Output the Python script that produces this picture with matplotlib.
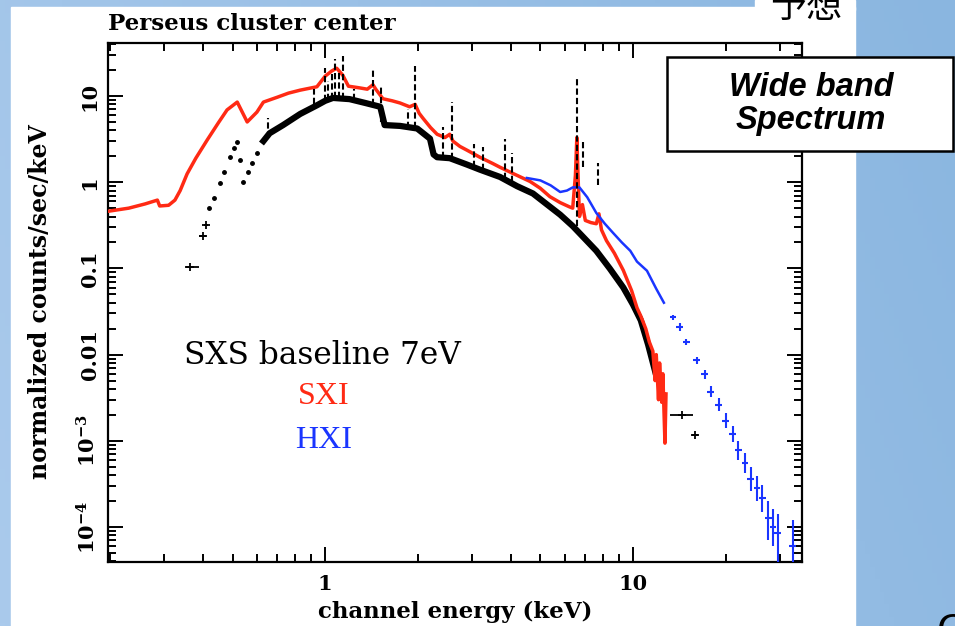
import numpy as np
import matplotlib
matplotlib.use("Agg")
import matplotlib.pyplot as plt
from matplotlib.patches import Rectangle
from matplotlib.ticker import LogLocator, NullFormatter, FixedLocator

plt.rcParams['mathtext.fontset'] = 'dejavuserif'

# SXI (red) spectrum
sxi_e = [0.197, 0.23, 0.26, 0.285, 0.29, 0.31, 0.325, 0.338, 0.356, 0.38, 0.414, 0.45,
         0.48, 0.518, 0.558, 0.60, 0.63, 0.70, 0.76, 0.83, 0.94, 1.0, 1.05, 1.09, 1.14,
         1.19, 1.28, 1.37, 1.43, 1.46, 1.54, 1.65, 1.75, 1.88, 1.96, 2.02, 2.08, 2.2,
         2.31, 2.45, 2.54, 2.6, 2.74, 2.89, 3.18, 3.5, 3.7, 4.1, 4.63, 5.0, 5.37, 5.8,
         6.2, 6.37, 6.5, 6.57, 6.64, 6.7, 6.85, 7.0, 7.3, 7.6, 7.75, 7.9, 8.2, 8.7, 9.3,
         9.9, 10.3, 10.6, 11.0, 11.3, 11.6, 11.8, 11.9, 12.1, 12.2, 12.4, 12.5, 12.7, 12.8]
sxi_f = [0.46, 0.50, 0.56, 0.62, 0.53, 0.54, 0.62, 0.80, 1.25, 1.9, 3.1, 4.9,
         6.9, 8.5, 5.0, 6.5, 8.5, 9.7, 10.8, 11.7, 12.8, 17.0, 19.5, 21.0, 17.5,
         13.0, 12.5, 12.0, 13.5, 12.0, 9.3, 8.8, 8.3, 7.5, 8.0, 6.3, 5.5, 4.3,
         3.6, 3.3, 3.6, 3.0, 2.6, 2.35, 1.95, 1.65, 1.49, 1.25, 1.02, 0.85, 0.68, 0.58,
         0.52, 0.50, 1.2, 3.3, 1.0, 0.40, 0.55, 0.36, 0.34, 0.33, 0.43, 0.28, 0.21, 0.15, 0.095,
         0.055, 0.035, 0.028, 0.020, 0.014, 0.011, 0.005, 0.010, 0.003, 0.008, 0.0028, 0.006, 0.00094, 0.0035]

# SXS (black) spectrum
sxs_dot_e = [0.42, 0.435, 0.456, 0.47, 0.49, 0.505, 0.518, 0.53, 0.54, 0.56, 0.58, 0.60]
sxs_dot_f = [0.5, 0.65, 0.97, 1.3, 1.95, 2.5, 2.9, 1.8, 1.0, 1.3, 1.66, 2.2]
sxs_e = [0.63, 0.66, 0.73, 0.83, 0.94, 1.0, 1.06, 1.2, 1.35, 1.51, 1.56, 1.75, 1.99,
         2.19, 2.25, 2.31, 2.54, 2.89, 3.18, 3.7, 4.2, 4.73, 5.37, 5.8, 6.37, 6.9, 7.6,
         8.4, 9.3, 10.0, 10.6, 11.2, 11.9]
sxs_f = [3.0, 3.7, 4.6, 6.2, 7.8, 8.8, 9.5, 9.2, 8.3, 7.5, 4.6, 4.5, 4.2,
         3.2, 2.1, 1.95, 1.9, 1.6, 1.4, 1.15, 0.9, 0.74, 0.52, 0.42, 0.31, 0.23, 0.16,
         0.10, 0.060, 0.038, 0.025, 0.013, 0.0057]
# isolated binned points with error bars
sxs_pt_e = [0.365, 0.40, 0.41, 14.4, 15.9]
sxs_pt_f = [0.105, 0.24, 0.32, 0.002, 0.00117]
sxs_pt_elo = [0.35, 0.39, 0.405, 13.2, 15.5]
sxs_pt_ehi = [0.39, 0.41, 0.415, 15.7, 16.3]

# emission lines in SXS (dashed)
line_e = [0.65, 0.92, 1.0, 1.02, 1.05, 1.08, 1.11, 1.14, 1.24, 1.43, 1.52, 1.86, 1.96,
          2.42, 2.59, 3.05, 3.26, 3.84, 4.05, 6.57, 6.9, 7.7]
line_top = [5.5, 12, 21, 15, 18, 27, 20, 29, 12, 21, 12.8, 7.0, 22,
            4.4, 8.5, 2.8, 2.55, 3.2, 2.2, 16, 3.2, 1.67]
line_base = [3.3, 8, 8.8, 9, 9.3, 9.5, 9.4, 9.3, 9, 7.8, 5, 4.3, 4.2,
             1.9, 1.85, 1.5, 1.4, 1.1, 1.0, 0.31, 1.5, 0.93]

# HXI (blue)
hxi_e = [4.52, 5.0, 5.4, 5.8, 6.1, 6.37, 6.7, 7.1, 7.6, 8.1, 8.6, 9.2, 9.8, 10.3,
         11.1, 11.9, 12.6]
hxi_f = [1.12, 1.05, 0.92, 0.77, 0.80, 0.87, 0.87, 0.67, 0.44, 0.33, 0.26, 0.20,
         0.16, 0.12, 0.094, 0.058, 0.040]
hxi_pt_e = [13.5, 14.2, 14.9, 16.1, 17.1, 17.9, 19.0, 20.0, 21.1, 22.0, 23.1, 24.1,
            25.3, 26.3, 27.5, 28.5, 29.5, 33.0]
hxi_pt_f = [0.027, 0.021, 0.014, 0.0086, 0.0059, 0.0037, 0.0026, 0.0017, 0.0012,
            0.00078, 0.00056, 0.00036, 0.00028, 0.00022, 0.000128, 0.0001, 0.000085, 0.00006]
hxi_pt_flo = [0.025, 0.019, 0.0128, 0.0078, 0.0052, 0.0032, 0.0022, 0.0014, 0.00097,
              0.0006, 0.00042, 0.00026, 0.0002, 0.00015, 0.00007, 0.00006, 0.00003, 0.00003]
hxi_pt_fhi = [0.029, 0.023, 0.0153, 0.0095, 0.0067, 0.0043, 0.0031, 0.0021, 0.0015,
              0.001, 0.00072, 0.0005, 0.00039, 0.00031, 0.0002, 0.00016, 0.00014, 0.00012]

W, H = 955, 626
fig = plt.figure(figsize=(9.55, 6.26), dpi=100)

# slide background
bg = fig.add_axes([0, 0, 1, 1], zorder=-10)
gx = np.linspace(0, 1, 200)[None, :]
gy = np.linspace(0, 1, 200)[:, None]
c1 = np.array([170, 202, 236]) / 255
c2 = np.array([138, 182, 224]) / 255
t = (0.8 * gx + 0.2 * (1 - gy))[..., None]
img = c1 * (1 - t) + c2 * t
bg.imshow(img, extent=[0, W, H, 0], aspect='auto')
bg.add_patch(Rectangle((11, 7), 844, 625, color='white'))
bg.add_patch(Rectangle((755, 0), 100, 10, color='white'))
bg.set_xlim(0, W)
bg.set_ylim(H, 0)
bg.axis('off')

ax = fig.add_axes([108 / W, 1 - 562 / H, (802 - 108) / W, (562 - 43) / H])
ax.set_facecolor('none')
ax.set_xscale('log')
ax.set_yscale('log')
ax.set_xlim(0.197, 35.4)
ax.set_ylim(3.93e-5, 41.2)

ax.plot(sxs_e, sxs_f, color='black', lw=4.5, zorder=2)
ax.plot(sxs_dot_e, sxs_dot_f, ls='none', marker='o', ms=2.5, color='black', zorder=2)
xerr = [np.array(sxs_pt_e) - np.array(sxs_pt_elo), np.array(sxs_pt_ehi) - np.array(sxs_pt_e)]
ax.errorbar(sxs_pt_e, sxs_pt_f, xerr=xerr, fmt='+', color='black', ms=6, mew=1.3,
            elinewidth=1.3, zorder=2)
ax.plot(sxi_e, sxi_f, color='#ff2a14', lw=2.5, zorder=3)
ax.plot(hxi_e, hxi_f, color='#1a35ff', lw=1.8, zorder=4)
he = np.array(hxi_pt_e)
yerr = [np.array(hxi_pt_f) - np.array(hxi_pt_flo), np.array(hxi_pt_fhi) - np.array(hxi_pt_f)]
ax.errorbar(hxi_pt_e, hxi_pt_f, xerr=he * 0.025, yerr=yerr, fmt='none', ecolor='#1a35ff',
            elinewidth=1.5, zorder=4, clip_on=True)
ax.vlines(line_e, line_base, line_top, colors='black', linestyles=(0, (3, 1.5)),
          lw=1.5, zorder=5)

for s in ax.spines.values():
    s.set_linewidth(1.6)
ax.tick_params(which='both', direction='in', top=True, right=True, width=1.4)
ax.tick_params(which='major', length=11)
ax.tick_params(which='minor', length=6)
ax.yaxis.set_major_locator(FixedLocator([1e-4, 1e-3, 0.01, 0.1, 1, 10]))
ax.yaxis.set_minor_locator(LogLocator(subs=np.arange(2, 10), numticks=30))
ax.yaxis.set_minor_formatter(NullFormatter())
ax.set_yticklabels(['$\\mathbf{10^{-4}}$', '$\\mathbf{10^{-3}}$', '0.01', '0.1', '1', '10'],
                   rotation=90, va='center', family='DejaVu Serif', weight='bold', fontsize=15)
ax.xaxis.set_major_locator(FixedLocator([1, 10]))
ax.xaxis.set_minor_locator(LogLocator(subs=np.arange(2, 10), numticks=30))
ax.xaxis.set_minor_formatter(NullFormatter())
ax.set_xticklabels(['1', '10'], family='DejaVu Serif', weight='bold', fontsize=15)
ax.tick_params(axis='y', pad=6)
ax.tick_params(axis='x', pad=9)

serif = 'DejaVu Serif'
fig.text(108 / W, 1 - 24 / H, 'Perseus cluster center', ha='left', va='center',
         family=serif, weight='bold', fontsize=16.5)
fig.text(455 / W, 1 - 612 / H, 'channel energy (keV)', ha='center', va='center',
         family=serif, weight='bold', fontsize=16.5)
fig.text(40 / W, 1 - 302 / H, 'normalized counts/sec/keV', ha='center', va='center',
         rotation=90, family=serif, weight='bold', fontsize=17)

fig.text(322 / W, 1 - 355 / H, 'SXS baseline 7eV', ha='center', va='center',
         family=serif, fontsize=22.5)
fig.text(324 / W, 1 - 397 / H, 'SXI', ha='center', va='center', color='#ff2a14',
         family='Liberation Serif', fontsize=23)
fig.text(324 / W, 1 - 441 / H, 'HXI', ha='center', va='center', color='#1a35ff',
         family='Liberation Serif', fontsize=23)

fig.add_artist(Rectangle((667 / W, 1 - 151 / H), 286 / W, 94 / H, transform=fig.transFigure,
                         facecolor='white', edgecolor='black', lw=1.8, zorder=10))
fig.text(811 / W, 1 - 104 / H, 'Wide band\nSpectrum', ha='center', va='center',
         family='Liberation Sans', weight='bold', style='italic', fontsize=23.5,
         linespacing=1.1, zorder=11)

# slide text cut by the top and bottom edges, as in the screenshot
fig.text(806 / W, 1 - 17 / H, '予想', ha='center', va='baseline',
         family=['Noto Sans CJK JP', 'DejaVu Sans'], fontsize=26)
fig.text(937 / W, 1 - 612 / H, 'C', ha='left', va='top', family='Liberation Sans',
         fontsize=30)

fig.savefig('out.png', dpi=100)
